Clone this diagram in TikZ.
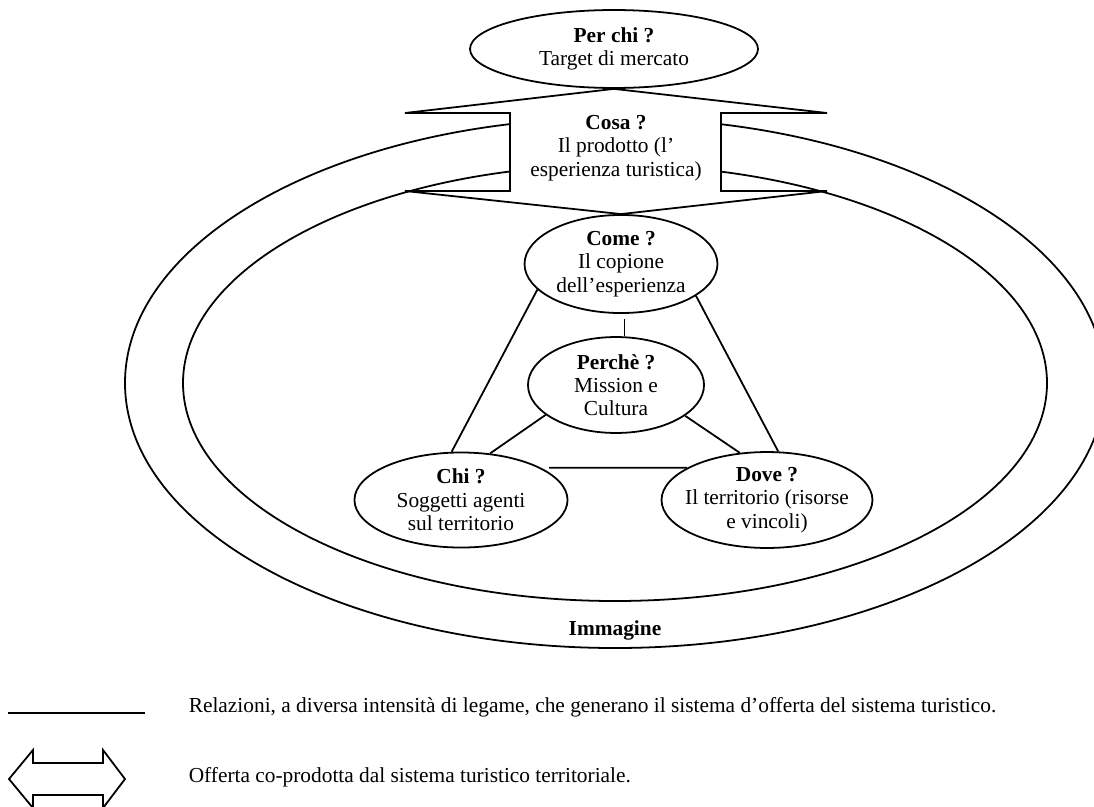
\documentclass[tikz,border=0pt]{standalone}
\usepackage{fontspec}
\setmainfont{Liberation Serif}
\usetikzlibrary{shapes.geometric}

\begin{document}
\begin{tikzpicture}[
  x=0.5618pt,y=-0.5618pt,
  line width=1pt,
  font=\fontsize{12}{13.1}\selectfont,
  bubble/.style={draw,ellipse,fill=white,inner sep=0pt},
  btext/.style={align=center,font=\fontsize{12}{13.1}\selectfont},
  link/.style={draw}
]
\useasboundingbox (0,0) rectangle (1094,806);
% the two rings of the image
\draw (615,383) ellipse [x radius=490,y radius=265];
\draw (615,383) ellipse [x radius=432,y radius=218];
\node[font=\bfseries\fontsize{12}{13.1}\selectfont] (immagine) at (615,630) {Immagine};
% questions
\node[bubble,minimum width=161.8pt,minimum height=43.8pt,
  label={[btext]center:{\textbf{Per chi ?}\\Target di mercato}}] (perchi) at (614,49) {};
\node[bubble,minimum width=108.4pt,minimum height=55.1pt,
  label={[btext]center:{\textbf{Come ?}\\Il copione\\dell’esperienza}}] (come) at (621,264) {};
\node[bubble,minimum width=98.9pt,minimum height=53.9pt,
  label={[btext]center:{\textbf{Perchè ?}\\Mission e\\Cultura}}] (perche) at (616,385) {};
\node[bubble,minimum width=119.7pt,minimum height=53.4pt,
  label={[btext]center:{\textbf{Chi ?}\\Soggetti agenti\\sul territorio}}] (chi) at (461,500) {};
\node[bubble,minimum width=118.5pt,minimum height=53.9pt,
  label={[btext]center:{\textbf{Dove ?}\\Il territorio (risorse\\e vincoli)}}] (dove) at (767,500) {};
% co-produced offer
\draw[fill=white] (perchi.south) -- (827,113) -- (721,113) -- (721,191) -- (827,191)
  -- (come.north) -- (405,191) -- (510,191) -- (510,113) -- (405,113) -- cycle;
\node[btext] (cosa) at (616,148) {\textbf{Cosa ?}\\Il prodotto (l’\\esperienza turistica)};
% relations
\draw[link,shorten <=2.8pt] ([xshift=2pt]come.south) -- ([xshift=2pt]come.south |- perche.north);
\draw[link] (come.197) -- (chi.101);
\draw[link] (come.337) -- (dove.77);
\draw[link] (perche.203) -- (chi.58);
\draw[link] (perche.336) -- (dove.120);
\draw[link,shorten <=4.5pt] (chi.22) -- (dove.158);
% legend
\draw (8,713) -- (145,713);
\node[anchor=base west] (leg1) at (182,712) {Relazioni, a diversa intensità di legame, che generano il sistema d’offerta del sistema turistico.};
\draw (9,779) -- (33,750) -- (33,763) -- (103,763) -- (103,750) -- (125,779)
  -- (103,808) -- (103,795) -- (33,795) -- (33,808) -- cycle;
\node[anchor=base west] (leg2) at (182,782) {Offerta co-prodotta dal sistema turistico territoriale.};
\end{tikzpicture}
\end{document}
